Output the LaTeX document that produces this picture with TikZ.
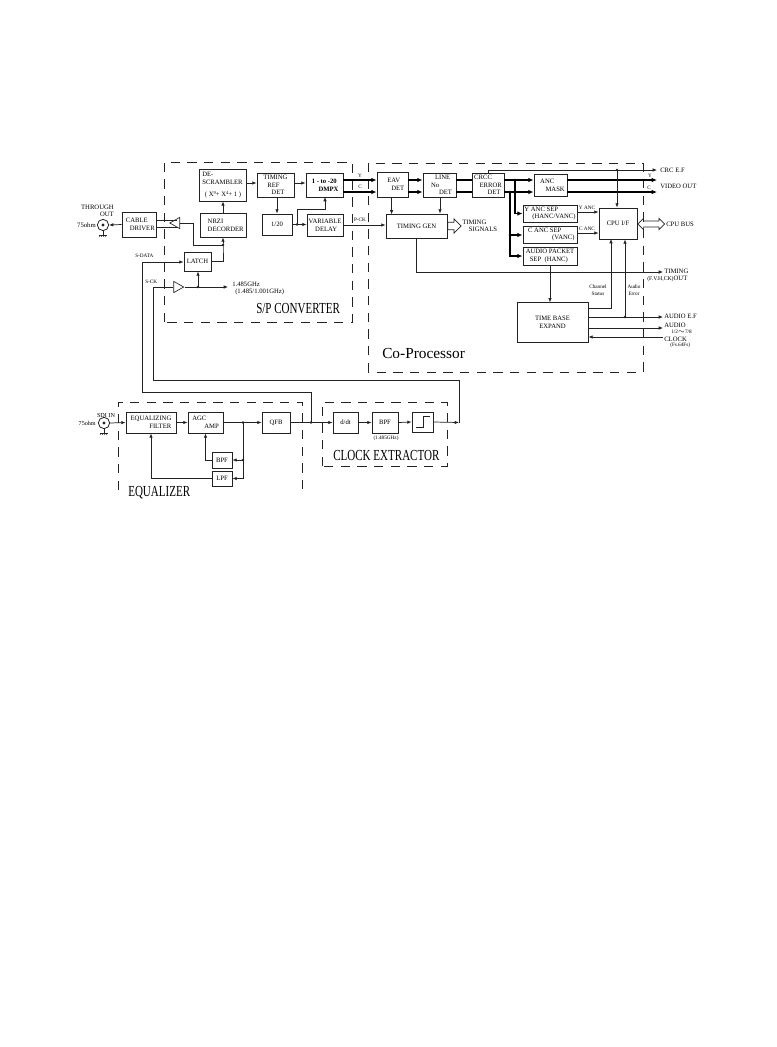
\documentclass[tikz,border=0pt]{standalone}
\usepackage{fontspec}
\setmainfont{Liberation Serif}
\newfontfamily\bigtitle[FakeStretch=0.72]{Liberation Serif}
\usetikzlibrary{arrows.meta,positioning,shapes.geometric,shapes.arrows,calc}
\definecolor{inkgray}{RGB}{35,35,35}
\tikzset{
  blk/.style={draw=inkgray,line width=0.6pt,inner sep=0pt,align=left,font=\fontsize{5}{5.8}\selectfont},
  sig/.style={draw=inkgray,line width=0.55pt,-{Latex[length=3.2pt,width=2.6pt]}},
  wire/.style={draw=inkgray,line width=0.55pt},
  bus/.style={draw=black,line width=1.2pt,-{Latex[length=4pt,width=3.4pt]}},
  lbl/.style={inner sep=0pt,align=left,font=\fontsize{5}{5.6}\selectfont},
  tinylbl/.style={inner sep=0pt,align=center,font=\fontsize{3.9}{4.9}\selectfont},
  dashbox/.style={draw=inkgray,line width=0.6pt,dash pattern=on 7pt off 5.5pt},
  jdot/.style={circle,fill=inkgray,inner sep=0pt,minimum size=2pt},
  conn/.style={draw=inkgray,circle,line width=0.6pt,inner sep=0pt,minimum size=8.5pt},
  buf/.style={draw=inkgray,isosceles triangle,isosceles triangle stretches,inner sep=0pt,line width=0.5pt,minimum width=8.5pt,minimum height=7.5pt},
  bigname/.style={inner sep=0pt,font=\fontsize{11.5}{12}\bigtitle}
}
\newcommand{\supdigit}[1]{\raisebox{1.6pt}{\fontsize{3.4}{3.4}\selectfont #1}}
\begin{document}
\begin{tikzpicture}[x=0.75pt,y=-0.75pt]
  \useasboundingbox[fill=white] (0,0) rectangle (777,1047);

  % dashed frames
  \draw[dashbox] (164,322) -- (164,162) -- (352,162) -- (352,322) -- cycle;
  \draw[dashbox] (368,372) -- (368,163) -- (643,163) -- (643,372) -- cycle;
  \draw[dashbox] (118,490) -- (118,402) -- (302,402) -- (302,490);
  \draw[dashbox] (322,466) -- (322,402) -- (447,402) -- (447,466) -- cycle;

  % S/P converter
  \node[conn] (thru) at (103,225) {};
  \node[blk,minimum width=25.5pt,minimum height=18.75pt] (cable) at (139,224.5) {\hspace*{2pt}CABLE\\\hspace*{5pt}DRIVER};
  \node[buf,shape border rotate=180] (txbuf) at (176.5,223) {};
  \node[blk,minimum width=34.5pt,minimum height=18pt] (nrzi) at (223,225) {\hspace*{4pt}NRZI\\\hspace*{4pt}DECORDER};
  \node[blk,minimum width=35.25pt,minimum height=24pt] (descr) at (222.5,185) {DE-\\SCRAMBLER\\[3pt]\hspace*{2pt}( X\supdigit{9}+ X\supdigit{4}+ 1 )};
  \node[blk,minimum width=27.75pt,minimum height=18pt] (tref) at (275.5,185) {TIMING\\\hspace*{3pt}REF\\\hspace*{6pt}DET};
  \node[blk,minimum width=27.75pt,minimum height=18pt] (dmpx) at (324.5,185) {\hspace*{1pt}\textbf{1 - to -20}\\\hspace*{6pt}\textbf{DMPX}};
  \node[blk,align=center,minimum width=22.5pt,minimum height=15.75pt] (div) at (277,224.5) {1/20};
  \node[blk,minimum width=27pt,minimum height=16.5pt] (vdelay) at (325,225) {VARIABLE\\\hspace*{5pt}DELAY};
  \node[blk,align=center,minimum width=20.25pt,minimum height=14.25pt] (latch) at (197.5,261.5) {LATCH};
  \node[buf] (ckbuf) at (177,287) {};

  \coordinate (rowy) at (0,180);
  \coordinate (rowc) at (0,192);
  \coordinate (jlatch) at (223,245);
  \coordinate (jck) at (198,287);
  \coordinate (jdiv) at (297,224.5);
  \coordinate (ckout) at (228,287);
  \node[jdot] at (jlatch) {};
  \node[jdot] at (jck) {};
  \node[jdot] at (jdiv) {};

  \draw[sig] (cable.west) -- (thru.east);
  \draw[wire] (cable.east |- 0,220) -- (177,220);
  \draw[wire] (cable.east |- 0,227) -- (178,227);
  \draw[sig] (nrzi.north) -- (nrzi.north |- descr.south);
  \draw[sig] (descr.east |- 0,183) -- (tref.west |- 0,183);
  \draw[sig] (tref.east |- 0,183) -- (dmpx.west |- 0,183);
  \draw[sig] (tref.south -| div.north) -- (div.north);
  \draw[sig] (div.east) -- (vdelay.west |- div.east);
  \draw[sig] (jdiv) |- (325,209) -- (325,197);
  \draw[sig] (latch.east) -| (jlatch) -- (jlatch |- nrzi.south);
  \draw[wire] (jlatch) -| (193,223) -- (txbuf.east);
  \draw[sig] (jck) -- (jck |- latch.south);
  \draw[wire] (ckbuf.east) -- (jck);
  \draw[sig] (jck) -- (ckout);
  \node[lbl,anchor=west] (lghz) at (232,284) {1.485GHz};
  \node[lbl,anchor=west] (lghz2) at (235,292) {(1.485/1.001GHz)};
  \node[lbl,anchor=east,align=right] (lthru) at (114,211) {THROUGH\\OUT};
  \node[lbl,anchor=east] (lohm) at (96,225) {75ohm};
  \node[tinylbl,anchor=west] (lsdata) at (135,256) {S-DATA};
  \node[tinylbl,anchor=west] (lsck) at (145,282) {S-CK};
  \node[bigname,anchor=west] (lsp) at (256,309) {S/P CONVERTER};

  % co-processor
  \node[blk,minimum width=23.25pt,minimum height=18.75pt] (eav) at (392.5,184.5) {\hspace*{5pt}EAV\\\hspace*{8pt}DET};
  \node[blk,minimum width=24.75pt,minimum height=18pt] (lineno) at (439.5,185) {\hspace*{6pt}LINE\\\hspace*{3pt}No\\\hspace*{9pt}DET};
  \node[blk,minimum width=24pt,minimum height=18pt] (crcc) at (488,185) {CRCC\\\hspace*{4pt}ERROR\\\hspace*{10pt}DET};
  \node[blk,minimum width=24.75pt,minimum height=16.5pt] (mask) at (550.5,185) {\hspace*{3pt}ANC\\\hspace*{7pt}MASK};
  \node[blk,minimum width=40.5pt,minimum height=12.75pt] (yanc) at (550,213.5) {Y ANC SEP\\\hspace*{6pt}(HANC/VANC)};
  \node[blk,minimum width=40.5pt,minimum height=12.75pt] (canc) at (550,234.5) {\hspace*{2pt}C ANC SEP\\\hspace*{20pt}(VANC)};
  \node[blk,minimum width=40.5pt,minimum height=13.5pt] (audio) at (550,256) {AUDIO PACKET\\\hspace*{3pt}SEP \ (HANC)};
  \node[blk,align=center,minimum width=28.5pt,minimum height=23.25pt] (cpu) at (618,223.5) {CPU I/F};
  \node[blk,align=center,minimum width=45.75pt,minimum height=18pt] (tgen) at (416.5,226) {TIMING GEN};
  \node[blk,align=center,minimum width=53.25pt,minimum height=30pt] (tbase) at (552.5,322) {TIME BASE\\EXPAND};
  \node[draw=inkgray,single arrow,inner xsep=0pt,inner ysep=2.5pt,line width=0.55pt,minimum height=10pt,single arrow head extend=2.5pt,anchor=tail] (tsarrow) at (tgen.east) {};
  \node[draw=inkgray,double arrow,inner xsep=0pt,inner ysep=2pt,line width=0.55pt,minimum height=20pt,double arrow head extend=2pt,anchor=west] (busarrow) at (cpu.east |- 0,224) {};

  \coordinate (jy) at (515,180);
  \coordinate (jc) at (510,192);
  \coordinate (jcanc) at (510,235);
  \coordinate (jcrc) at (617,170);
  \coordinate (jerr) at (625,317);
  \coordinate (crcout) at (657,170);
  \coordinate (yout) at (657,180);
  \coordinate (cout) at (657,192);
  \coordinate (tmout) at (663,272);
  \coordinate (efout) at (663,317);
  \coordinate (audout) at (663,328);
  \coordinate (ckin) at (663,337);
  \node[jdot] at (jy) {};
  \node[jdot] at (jc) {};
  \node[jdot] at (jcanc) {};
  \node[jdot] at (jcrc) {};
  \node[jdot] at (jerr) {};

  \foreach \rw in {rowy,rowc} {
    \draw[bus] (dmpx.east |- \rw) -- (eav.west |- \rw);
    \draw[bus] (eav.east |- \rw) -- (lineno.west |- \rw);
    \draw[bus,-] (lineno.east |- \rw) -- (crcc.west |- \rw);
    \draw[bus] (crcc.east |- \rw) -- (mask.west |- \rw);
  }
  \draw[bus] (mask.east |- rowy) -- (yout);
  \draw[bus] (mask.east |- rowc) -- (cout);
  \draw[bus] (jy) |- (yanc.west);
  \draw[bus] (jc) |- (audio.west);
  \draw[bus] (jcanc) -- (canc.west |- jcanc);
  \draw[sig] (eav.south -| tgen.west) ++(6,0) -- ++(0,17);
  \draw[sig] (lineno.south -| 440,0) -- (tgen.north -| 440,0);
  \draw[sig] (crcc.north) -- (crcc.north |- jcrc) -- (crcout);
  \draw[sig] (jcrc) -- (jcrc |- cpu.north);
  \draw[sig] (vdelay.east) -- (tgen.west |- vdelay.east);
  \draw[sig] (yanc.east |- 0,212) -- (cpu.west |- 0,212);
  \draw[sig] (canc.east |- 0,233) -- (cpu.west |- 0,233);
  \draw[sig] (tgen.south) |- (tmout);
  \draw[sig] (audio.south -| tbase.north) ++(-2.5,0) -- ++(0,37);
  \draw[sig] (tbase.east |- 0,308) -- (611,308) -- (611,239);
  \draw[sig] (jerr) -- (jerr |- cpu.south);
  \draw[sig] (tbase.east |- efout) -- (efout);
  \draw[sig] (tbase.east |- audout) -- (audout);
  \draw[sig] (ckin) -- (tbase.east |- ckin);

  \node[tinylbl] (ly1) at (360,176) {Y};
  \node[tinylbl] (lc1) at (360,187) {C};
  \node[tinylbl] (lpck) at (360,220) {P-CK};
  \node[tinylbl] (ly2) at (650,176) {Y};
  \node[tinylbl] (lc2) at (649,188) {C};
  \node[tinylbl] (lyanc) at (587,208) {Y ANC};
  \node[tinylbl] (lcanc) at (587,229) {C ANC};
  \node[tinylbl] (lchan) at (598,290) {Channel\\Status};
  \node[tinylbl] (lerr) at (634,290) {Audio\\Error};
  \node[lbl,anchor=west] (ltsig) at (462,226) {TIMING\\\hspace*{5pt}SIGNALS};
  \node[lbl,anchor=west] (lcrc) at (660,170) {CRC E.F};
  \node[lbl,anchor=west] (lvid) at (660,186) {VIDEO OUT};
  \node[lbl,anchor=west] (lbus) at (666,224) {CPU BUS};
  \node[lbl,anchor=west] (ltm) at (664,271) {TIMING};
  \node[lbl,anchor=west] (ltm2) at (647,278.5) {{\fontsize{4.3}{5}\selectfont (F.V.H,CK)}OUT};
  \node[lbl,anchor=west] (lef) at (664,316) {AUDIO E.F};
  \node[lbl,anchor=west] (lau) at (664,325.5) {AUDIO};
  \node[tinylbl,anchor=west] (lau2) at (671,332) {1/2$\sim$7/8};
  \node[lbl,anchor=west] (lclk) at (664,339) {CLOCK};
  \node[tinylbl,anchor=west] (lfs) at (670,345.5) {(Fs.64Fs)};
  \node[inner sep=0pt,font=\fontsize{11.5}{12}\selectfont,anchor=west] (lco) at (382,353) {Co-Processor};

  % equalizer and clock extractor
  \node[conn] (sdi) at (104,423) {};
  \node[blk,minimum width=37.5pt,minimum height=15.75pt] (eqf) at (151,422.5) {EQUALIZING\\\hspace*{14pt}FILTER};
  \node[blk,minimum width=26.25pt,minimum height=15.75pt] (agc) at (205.5,422.5) {AGC\\\hspace*{9pt}AMP};
  \node[blk,align=center,minimum width=21pt,minimum height=15.75pt] (qfb) at (276,422.5) {QFB};
  \node[blk,align=center,minimum width=15pt,minimum height=12pt] (bpfa) at (222,460) {BPF};
  \node[blk,align=center,minimum width=15pt,minimum height=11.25pt] (lpf) at (222,478.5) {LPF};
  \node[blk,align=center,minimum width=18.75pt,minimum height=15.75pt] (ddt) at (345.5,422.5) {d/dt};
  \node[blk,align=center,minimum width=19.5pt,minimum height=15.75pt] (bpfb) at (385,422.5) {BPF};
  \node[blk,minimum width=15.75pt,minimum height=15pt] (slice) at (422.5,422) {};
  \draw[wire] (416,427) -- (423,427) -- (423,416) -- (430,416);

  \coordinate (jagc) at (243,422.5);
  \coordinate (jbpf) at (243,460);
  \coordinate (jqfb) at (311,422.5);
  \coordinate (ckend) at (459,422.5);
  \node[jdot] at (jagc) {};
  \node[jdot] at (jbpf) {};
  \node[jdot] at (jqfb) {};

  \draw[sig] (sdi.east) -- (eqf.west);
  \draw[sig] (eqf.east) -- (agc.west);
  \draw[sig] (agc.east) -- (qfb.west);
  \draw[wire] (qfb.east) -- (jqfb);
  \draw[sig] (jqfb) -- (ddt.west);
  \draw[sig] (ddt.east) -- (bpfb.west);
  \draw[sig] (bpfb.east) -- (slice.west);
  \draw[sig] (slice.east) -- (ckend);
  \draw[wire] (jagc) -- (jbpf);
  \draw[sig] (jbpf) -- (bpfa.east);
  \draw[sig] (jbpf) |- (lpf.east);
  \draw[sig] (bpfa.west) -| (agc.south);
  \draw[sig] (lpf.west) -| (eqf.south);
  % serial data and clock routed back up to the converter
  \draw[sig] (jqfb) -- (311,392) -- (142.7,392) -- (142.7,262) -- (latch.west |- 0,262);
  \draw[wire] (ckend) -- (459,380) -- (153,380) -- (153,287) -- (ckbuf.west);

  \node[lbl,anchor=east] (lohm2) at (96,423) {\fontsize{4.6}{5}\selectfont 75ohm};
  \node[tinylbl] (lsdi) at (106,415) {\fontsize{4.6}{5}\selectfont SDI IN};
  \node[tinylbl] (lfreq) at (386,438) {(1.485GHz)};
  \node[bigname,anchor=west] (leq) at (128,493) {EQUALIZER};
  \node[bigname,anchor=west] (lclock) at (333,455) {CLOCK EXTRACTOR};

  % centre pin and ground mark on both coaxial sockets
  \foreach \c in {thru,sdi} {
    \fill[inkgray] (\c.center) circle (1.6);
    \draw[wire] (\c.south) -- ++(0,4);
    \draw[wire] ($(\c.south)+(-4,4)$) -- ++(8,0);
    \foreach \k in {-3,-1,1,3}
      \draw[wire,line width=0.35pt] ($(\c.south)+(\k,4)$) -- ++(-1,2);
  }
\end{tikzpicture}
\end{document}
